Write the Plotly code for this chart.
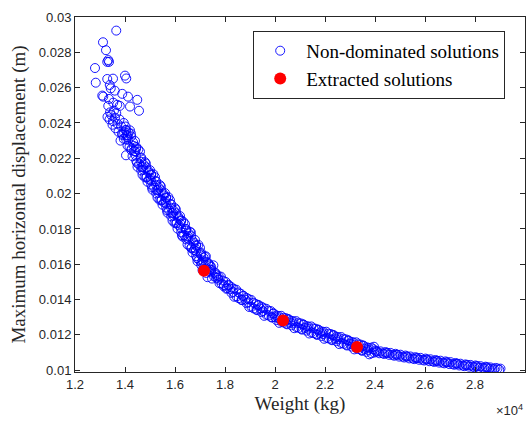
import plotly.graph_objects as go

# Non-dominated solutions (weight in kg, max horizontal displacement in m)
weight_top = [13650, 13120, 13240, 13330, 13360, 13290, 12800, 12830, 14000, 14050,
              13290, 13520, 13390, 13430, 13090, 13130, 13590, 13890, 14120, 14490,
              14560, 13360, 13530, 13330, 13690, 13790, 14200]
disp_top = [0.02923, 0.02857, 0.02812, 0.02756, 0.02746, 0.02746, 0.02711, 0.02628, 0.02668, 0.02652,
            0.02649, 0.02651, 0.02615, 0.02596, 0.02555, 0.02549, 0.02583, 0.02565, 0.02549, 0.02531,
            0.02469, 0.02536, 0.02515, 0.02497, 0.02503, 0.02497, 0.02493]

weight_knee = [13300, 13380, 13450, 13520, 13600, 13700, 13780, 13850, 13950, 13620,
               13740, 13880, 14020, 13500, 13820, 13950, 14100, 14040, 13400, 13560, 13650]
disp_knee = [0.02435, 0.02420, 0.02445, 0.02410, 0.02430, 0.02395, 0.02420, 0.02380, 0.02400, 0.02370,
             0.02350, 0.02340, 0.02360, 0.02390, 0.02300, 0.02310, 0.02320, 0.02217, 0.02460, 0.02470, 0.02455]

weight_steep = [14025, 13965, 14060, 14050, 14110, 14145, 14180, 14235, 14135,
                14325, 14265, 14360, 14350, 14410, 14445, 14480, 14535, 14435,
                14625, 14565, 14660, 14650, 14710, 14745, 14780, 14835, 14735,
                14925, 14865, 14960, 14950, 15010, 15045, 15080, 15135, 15035,
                15225, 15165, 15260, 15250, 15310, 15345, 15380, 15435, 15335,
                15525, 15465, 15560, 15550, 15610, 15645, 15680, 15735, 15635,
                15825, 15765, 15860, 15850, 15910, 15945, 15980, 16035, 15935,
                16125, 16065, 16160, 16150, 16210, 16245, 16280, 16335, 16235,
                16425, 16365, 16460, 16450, 16510, 16545, 16580, 16635, 16535,
                16725, 16665, 16760, 16750, 16810, 16845, 16880, 16935, 16835,
                17025, 16965, 17060, 17050, 17110, 17145, 17180, 17235, 17135,
                17325, 17265, 17360, 17350, 17410, 17445, 17480, 17535, 17435,
                17625, 17565, 17660, 17650, 17710, 17745, 17780, 17835, 17735,
                17925, 17865, 17960]
disp_steep = [0.02380, 0.02345, 0.02330, 0.02360, 0.02330, 0.02345, 0.02265, 0.02340, 0.02305,
              0.02290, 0.02255, 0.02240, 0.02270, 0.02240, 0.02255, 0.02175, 0.02250, 0.02215,
              0.02200, 0.02165, 0.02150, 0.02180, 0.02150, 0.02165, 0.02095, 0.02170, 0.02135,
              0.02130, 0.02095, 0.02080, 0.02120, 0.02090, 0.02105, 0.02035, 0.02110, 0.02075,
              0.02070, 0.02035, 0.02020, 0.02050, 0.02020, 0.02035, 0.01965, 0.02040, 0.02005,
              0.02000, 0.01965, 0.01950, 0.01990, 0.01960, 0.01975, 0.01905, 0.01980, 0.01945,
              0.01940, 0.01905, 0.01890, 0.01920, 0.01890, 0.01905, 0.01835, 0.01910, 0.01875,
              0.01870, 0.01835, 0.01820, 0.01860, 0.01830, 0.01845, 0.01765, 0.01840, 0.01805,
              0.01800, 0.01765, 0.01750, 0.01790, 0.01760, 0.01775, 0.01705, 0.01780, 0.01745,
              0.01730, 0.01695, 0.01680, 0.01720, 0.01690, 0.01705, 0.01635, 0.01710, 0.01675,
              0.01660, 0.01625, 0.01610, 0.01652, 0.01622, 0.01637, 0.01570, 0.01645, 0.01610,
              0.01608, 0.01573, 0.01558, 0.01600, 0.01570, 0.01585, 0.01519, 0.01594, 0.01559,
              0.01548, 0.01531, 0.01523, 0.01539, 0.01524, 0.01532, 0.01493, 0.01530, 0.01513,
              0.01507, 0.01490, 0.01482]

weight_steep_outer = [14200, 13900, 14250, 14050, 14400, 14100, 14450, 14250, 14600, 14300,
                      14650, 14450, 14800, 14500, 14850, 14650, 15000, 14700, 15050, 14850,
                      15200, 14900, 15250, 15050, 15400, 15100, 15450, 15250, 15600, 15300,
                      15650, 15450, 15800, 15500, 15850, 15650, 16000, 15700, 16050, 15850,
                      16200, 15900, 16250, 16050, 16400, 16100, 16450, 16250, 16600, 16300,
                      16650, 16450, 16800, 16500, 16850, 16650, 17000, 16700, 17050, 16850,
                      17200, 16900, 17250, 17050, 17400, 17100, 17450, 17250, 17600, 17300]
disp_steep_outer = [0.02358, 0.02332, 0.02324, 0.02306, 0.02298, 0.02272, 0.02264, 0.02246, 0.02238, 0.02212,
                    0.02204, 0.02186, 0.02178, 0.02152, 0.02149, 0.02131, 0.02133, 0.02107, 0.02109, 0.02091,
                    0.02093, 0.02067, 0.02069, 0.02051, 0.02048, 0.02022, 0.02019, 0.02001, 0.02003, 0.01977,
                    0.01979, 0.01961, 0.01963, 0.01937, 0.01939, 0.01921, 0.01918, 0.01892, 0.01889, 0.01871,
                    0.01873, 0.01847, 0.01849, 0.01831, 0.01828, 0.01802, 0.01799, 0.01781, 0.01783, 0.01757,
                    0.01759, 0.01741, 0.01738, 0.01712, 0.01709, 0.01691, 0.01693, 0.01667, 0.01664, 0.01646,
                    0.01643, 0.01617, 0.01614, 0.01596, 0.01593, 0.01567, 0.01569, 0.01551, 0.01553, 0.01527]

weight_mid = [18030, 17950, 18080, 18130, 18210, 18260, 18370, 18450, 18320,
              18630, 18550, 18680, 18730, 18810, 18860, 18970, 19050, 18920,
              19230, 19150, 19280, 19330, 19410, 19460, 19570, 19650, 19520,
              19830, 19750, 19880, 19930, 20010, 20060, 20170, 20250, 20120,
              20430, 20350, 20480, 20530, 20610, 20660, 20770, 20850, 20720,
              21030, 20950, 21080, 21130, 21210, 21260, 21370, 21450, 21320,
              21630, 21550, 21680, 21730, 21810, 21860, 21970, 22050, 21920,
              22230, 22150, 22280, 22330, 22410, 22460, 22570, 22650, 22520,
              22830, 22750, 22880, 22930, 23010, 23060, 23170, 23250, 23120,
              23430, 23350, 23480, 23530, 23610, 23660, 23770, 23850, 23720]
disp_mid = [0.01500, 0.01475, 0.01465, 0.01480, 0.01460, 0.01470, 0.01416, 0.01456, 0.01443,
            0.01433, 0.01408, 0.01398, 0.01420, 0.01400, 0.01410, 0.01358, 0.01398, 0.01385,
            0.01375, 0.01350, 0.01340, 0.01370, 0.01350, 0.01360, 0.01308, 0.01348, 0.01335,
            0.01335, 0.01310, 0.01300, 0.01320, 0.01300, 0.01310, 0.01268, 0.01308, 0.01295,
            0.01295, 0.01270, 0.01260, 0.01290, 0.01270, 0.01280, 0.01238, 0.01278, 0.01265,
            0.01265, 0.01240, 0.01230, 0.01260, 0.01240, 0.01250, 0.01208, 0.01248, 0.01235,
            0.01235, 0.01210, 0.01200, 0.01230, 0.01210, 0.01220, 0.01178, 0.01218, 0.01205,
            0.01205, 0.01180, 0.01170, 0.01200, 0.01180, 0.01190, 0.01148, 0.01188, 0.01175,
            0.01175, 0.01150, 0.01140, 0.01170, 0.01150, 0.01160, 0.01118, 0.01158, 0.01145,
            0.01145, 0.01120, 0.01110, 0.01140, 0.01120, 0.01130, 0.01090, 0.01128, 0.01115]

weight_mid_outer = [18140, 18060, 18340, 18260, 18540, 18460, 18740, 18660, 18940, 18860,
                    19140, 19060, 19340, 19260, 19540, 19460, 19740, 19660, 19940, 19860,
                    20140, 20060, 20340, 20260, 20540, 20460, 20740, 20660, 20940, 20860,
                    21140, 21060, 21340, 21260, 21540, 21460, 21740, 21660, 21940, 21860,
                    22140, 22060, 22340, 22260, 22540, 22460, 22740, 22660, 22940, 22860,
                    23140, 23060, 23340, 23260, 23540, 23460, 23740, 23660, 23940, 23860]
disp_mid_outer = [0.01484, 0.01461, 0.01461, 0.01438, 0.01440, 0.01417, 0.01421, 0.01398, 0.01403, 0.01380,
                  0.01382, 0.01359, 0.01367, 0.01344, 0.01352, 0.01329, 0.01337, 0.01314, 0.01322, 0.01299,
                  0.01307, 0.01284, 0.01297, 0.01274, 0.01287, 0.01264, 0.01277, 0.01254, 0.01267, 0.01244,
                  0.01257, 0.01234, 0.01247, 0.01224, 0.01237, 0.01214, 0.01227, 0.01204, 0.01217, 0.01194,
                  0.01207, 0.01184, 0.01197, 0.01174, 0.01187, 0.01164, 0.01177, 0.01154, 0.01167, 0.01144,
                  0.01157, 0.01134, 0.01147, 0.01124, 0.01137, 0.01114, 0.01127, 0.01104, 0.01119, 0.01096]

weight_tail = [24020, 23970, 24050, 24220, 24170, 24420, 24370, 24450, 24620, 24570,
               24820, 24770, 24850, 25020, 24970, 25220, 25170, 25250, 25420, 25370,
               25620, 25570, 25650, 25820, 25770, 26020, 25970, 26050, 26220, 26170,
               26420, 26370, 26450, 26620, 26570, 26820, 26770, 26850, 27020, 26970,
               27220, 27170, 27250, 27420, 27370, 27620, 27570, 27650, 27820, 27770,
               28020, 27970, 28050, 28220, 28170, 28420, 28370, 28450, 28620, 28570,
               28820, 28770, 29020, 28970, 23960,
               24100, 24300, 24500, 24700, 24900, 25100, 25300, 25500, 25700, 25900,
               26100, 26300, 26500, 26700, 26900, 27100, 27300, 27500, 27700, 27900,
               28100, 28300, 28500, 28700, 28900]
disp_tail = [0.01111, 0.01100, 0.01105, 0.01107, 0.01096, 0.01103, 0.01092, 0.01097, 0.01098, 0.01087,
             0.01093, 0.01082, 0.01087, 0.01088, 0.01077, 0.01083, 0.01072, 0.01077, 0.01078, 0.01067,
             0.01074, 0.01063, 0.01068, 0.01070, 0.01059, 0.01066, 0.01055, 0.01060, 0.01062, 0.01051,
             0.01058, 0.01047, 0.01052, 0.01054, 0.01043, 0.01050, 0.01039, 0.01044, 0.01046, 0.01035,
             0.01041, 0.01031, 0.01036, 0.01037, 0.01027, 0.01033, 0.01023, 0.01028, 0.01030, 0.01020,
             0.01027, 0.01017, 0.01022, 0.01023, 0.01013, 0.01020, 0.01010, 0.01015, 0.01016, 0.01007,
             0.01013, 0.01005, 0.01009, 0.01003, 0.01133,
             0.01106, 0.01096, 0.01098, 0.01087, 0.01088, 0.01077, 0.01078, 0.01067, 0.01069, 0.01059,
             0.01061, 0.01051, 0.01053, 0.01043, 0.01045, 0.01035, 0.01037, 0.01027, 0.01030, 0.01021,
             0.01023, 0.01014, 0.01017, 0.01007, 0.01010]

# Extracted solutions
extracted_weight = [17160, 20320, 23280]
extracted_disp = [0.01563, 0.01282, 0.01132]

x_tick_values = [12000, 14000, 16000, 18000, 20000, 22000, 24000, 26000, 28000, 30000]
x_tick_labels = ["1.2", "1.4", "1.6", "1.8", "2", "2.2", "2.4", "2.6", "2.8", "3"]
y_tick_values = [0.01, 0.012, 0.014, 0.016, 0.018, 0.02, 0.022, 0.024, 0.026, 0.028, 0.03]
y_tick_labels = ["0.01", "0.012", "0.014", "0.016", "0.018", "0.02", "0.022", "0.024", "0.026", "0.028", "0.03"]

weight_all = weight_top + weight_knee + weight_steep + weight_steep_outer + weight_mid + weight_mid_outer + weight_tail
disp_all = disp_top + disp_knee + disp_steep + disp_steep_outer + disp_mid + disp_mid_outer + disp_tail

fig = go.Figure()
fig.add_trace(go.Scatter(
    x=weight_all, y=disp_all, mode="markers", name="Non-dominated solutions",
    marker=dict(symbol="circle-open", size=9, color="#0000FF", line=dict(width=0.9, color="#0000FF")),
))
fig.add_trace(go.Scatter(
    x=extracted_weight, y=extracted_disp, mode="markers", name="Extracted solutions",
    marker=dict(symbol="circle", size=12, color="#FF0000"),
))

axis_common = dict(
    showline=True, linecolor="#262626", linewidth=1, mirror="ticks",
    ticks="inside", ticklen=5, tickcolor="#262626", showgrid=False, zeroline=False,
    tickfont=dict(family="Liberation Sans, Arial", size=13, color="#262626"),
)

fig.update_layout(
    width=528, height=421,
    margin=dict(l=75, r=3, t=17, b=49),
    paper_bgcolor="white", plot_bgcolor="white",
    xaxis=dict(range=[12000, 30000], tickvals=x_tick_values, ticktext=x_tick_labels,
               title=dict(text="Weight (kg)", font=dict(family="Liberation Serif, Times New Roman", size=19, color="#262626"), standoff=6),
               automargin=False, **axis_common),
    yaxis=dict(range=[0.0099, 0.03], tickvals=y_tick_values, ticktext=y_tick_labels,
               title=dict(text="Maximum horizontal displacement (m)", font=dict(family="Liberation Serif, Times New Roman", size=19, color="#262626"), standoff=8),
               automargin=False, **axis_common),
    legend=dict(x=0.396, y=0.961, xanchor="left", yanchor="top",
                bgcolor="white", bordercolor="#262626", borderwidth=1,
                font=dict(family="Liberation Serif, Times New Roman", size=19, color="black"),
                tracegroupgap=0, itemsizing="trace", itemwidth=42),
    showlegend=True,
    annotations=[dict(text="×10<sup>4</sup>", xref="paper", yref="paper", x=1.0, y=-0.08,
                      xanchor="right", yanchor="top", showarrow=False,
                      font=dict(family="Liberation Sans, Arial", size=13, color="#262626"))],
)

fig.write_html("out.html", config={"displayModeBar": False},
               post_script="document.body.style.margin='0px';document.body.style.overflow='hidden';")
